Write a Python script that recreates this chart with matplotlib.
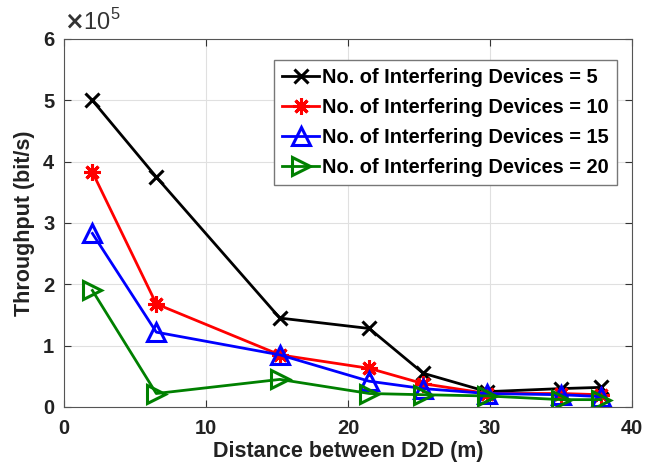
import numpy as np
import matplotlib.pyplot as plt

plt.rcParams['font.family'] = ['Liberation Sans', 'DejaVu Sans']
plt.rcParams['font.weight'] = 'bold'

distance = [2.0, 6.5, 15.2, 21.5, 25.3, 29.8, 35.0, 37.8]
tp_5 = [5.0, 3.75, 1.45, 1.28, 0.55, 0.25, 0.30, 0.32]
tp_10 = [3.83, 1.68, 0.85, 0.63, 0.38, 0.22, 0.22, 0.20]
tp_15 = [2.83, 1.22, 0.85, 0.42, 0.30, 0.22, 0.20, 0.17]
tp_20 = [1.90, 0.22, 0.45, 0.22, 0.20, 0.18, 0.12, 0.12]
labels = ['No. of Interfering Devices = 5', 'No. of Interfering Devices = 10',
          'No. of Interfering Devices = 15', 'No. of Interfering Devices = 20']

fig = plt.figure(figsize=(6.59, 4.74), dpi=100)
ax = fig.add_axes([64/659, 67/474, 568/659, 368/474])

scale = 1e5
ax.plot(distance, np.array(tp_5) * scale, color='black', marker='x', ms=10, mew=2.2, lw=2, label=labels[0])
ax.plot(distance, np.array(tp_10) * scale, color='red', marker=(8, 2, 0), ms=12, mew=2.2, lw=2, label=labels[1])
ax.plot(distance, np.array(tp_15) * scale, color='blue', marker='^', ms=13, mew=2.2, mfc='none', lw=2, label=labels[2])
ax.plot(distance, np.array(tp_20) * scale, color='green', marker='>', ms=13, mew=2.2, mfc='none', lw=2, label=labels[3])

ax.set_xlim(0, 40)
ax.set_ylim(0, 6e5)
ax.set_xticks([0, 10, 20, 30, 40])
ax.set_yticks(np.arange(0, 7) * 1e5)
ax.set_yticklabels([str(i) for i in range(7)])
ax.grid(True, color='#e0e0e0', lw=0.8)
ax.set_axisbelow(True)
for s in ax.spines.values():
    s.set_color('#555555')
ax.tick_params(direction='in', labelsize=14.5, colors='#333333', labelcolor='#222222', length=5,
               top=True, right=True, labeltop=False, labelright=False)
ax.tick_params(axis='x', pad=9)
ax.tick_params(axis='y', pad=7)
ax.set_xlabel('Distance between D2D (m)', fontsize=15.5, fontweight='bold', labelpad=2, color='#222222')
ax.set_ylabel('Throughput (bit/s)', fontsize=15.5, fontweight='bold', labelpad=6, color='#222222')
ax.text(0.0, 1.012, r'$\times\mathregular{10}^{\mathregular{5}}$', transform=ax.transAxes, fontsize=17,
        fontweight='normal', ha='left', va='bottom', color='#333333')

leg = ax.legend(loc='upper right', bbox_to_anchor=(0.974, 0.943), fontsize=14.4, handlelength=1.85,
                handletextpad=0.15, borderpad=0.4, labelspacing=0.55, borderaxespad=0, fancybox=False,
                framealpha=1, edgecolor='#777777')
leg.get_frame().set_linewidth(1)

fig.savefig('out.png', dpi=100)
